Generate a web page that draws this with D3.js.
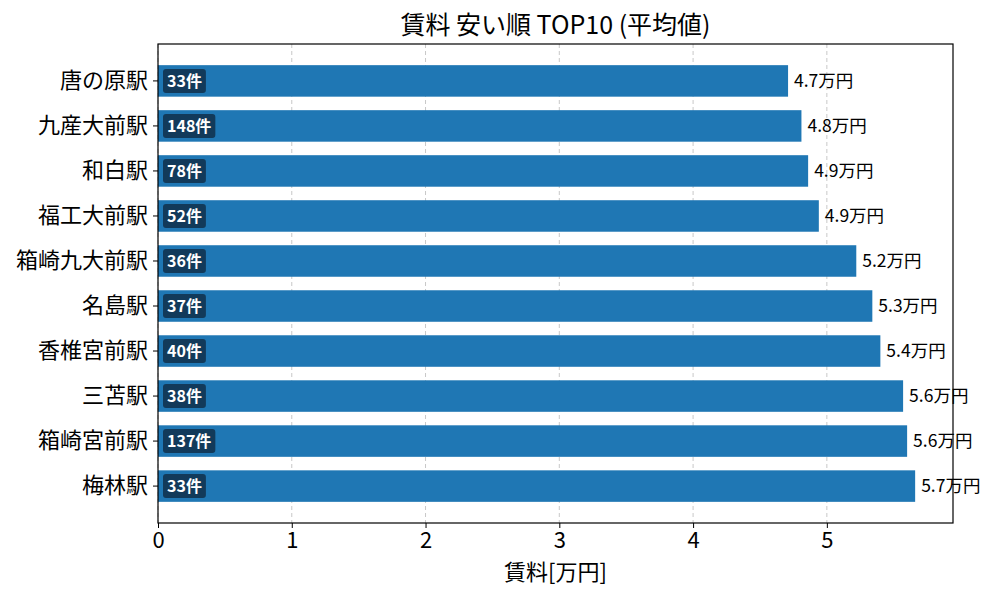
<!DOCTYPE html>
<html>
<head>
<meta charset="utf-8">
<script src="https://cdn.jsdelivr.net/npm/d3@7"></script>
<style>
  body { margin: 0; background: #fff; }
  text { font-family: "Noto Sans CJK JP", "Noto Sans", sans-serif; }
</style>
</head>
<body>
<svg id="chart" width="1000" height="600"></svg>
<script>
// station names, cheapest first (top to bottom)
const stations = ["唐の原駅", "九産大前駅", "和白駅", "福工大前駅", "箱崎九大前駅",
                  "名島駅", "香椎宮前駅", "三苫駅", "箱崎宮前駅", "梅林駅"];
// mean rent in 万円
const rents = [4.71, 4.81, 4.86, 4.94, 5.22, 5.34, 5.40, 5.57, 5.60, 5.66];
// number of listings
const counts = [33, 148, 78, 52, 36, 37, 40, 38, 137, 33];
const xTicks = [0, 1, 2, 3, 4, 5];

const rows = stations.map((s, i) => ({ name: s, rent: rents[i], count: counts[i] }));

const W = 1000, H = 600;
const m = { top: 44, right: 47, bottom: 77, left: 158 };
const iw = W - m.left - m.right;
const ih = H - m.top - m.bottom;

const svg = d3.select("#chart");
const g = svg.append("g").attr("transform", `translate(${m.left},${m.top})`);

// x goes a bit past the longest bar
const x = d3.scaleLinear().domain([0, d3.max(rents) * 1.05]).range([0, iw]);
const y = d3.scaleBand().domain(stations).range([0, ih]).paddingInner(0.3).paddingOuter(0.47);

// dashed vertical grid
g.selectAll(".grid")
  .data(xTicks)
  .enter().append("line")
  .attr("x1", d => x(d)).attr("x2", d => x(d))
  .attr("y1", 0).attr("y2", ih)
  .attr("stroke", "#c8c8c8")
  .attr("stroke-width", 1)
  .attr("stroke-dasharray", "4,3");

// bars
g.selectAll(".bar")
  .data(rows)
  .enter().append("rect")
  .attr("x", 0)
  .attr("y", d => y(d.name))
  .attr("width", d => x(d.rent))
  .attr("height", y.bandwidth())
  .attr("fill", "#1f77b4");

// rent value at bar end
g.selectAll(".val")
  .data(rows)
  .enter().append("text")
  .attr("x", d => x(d.rent) + 6)
  .attr("y", d => y(d.name) + y.bandwidth() / 2)
  .attr("dy", "0.35em")
  .attr("font-size", 17.5)
  .attr("fill", "#000")
  .text(d => d.rent.toFixed(1) + "万円");

// count badges inside bar
const badge = g.selectAll(".badge")
  .data(rows)
  .enter().append("g")
  .attr("transform", d => `translate(5,${y(d.name) + y.bandwidth() / 2})`);

badge.append("text")
  .attr("x", 4)
  .attr("dy", "0.35em")
  .attr("font-size", 16)
  .attr("font-weight", "bold")
  .attr("fill", "#fff")
  .text(d => d.count + "件")
  .each(function () {
    const bb = this.getBBox();
    d3.select(this.parentNode).insert("rect", "text")
      .attr("x", 0)
      .attr("y", -12)
      .attr("width", bb.width + 8)
      .attr("height", 24)
      .attr("rx", 3)
      .attr("fill", "#123a5a");
  });

// frame
g.append("rect")
  .attr("width", iw).attr("height", ih)
  .attr("fill", "none").attr("stroke", "#000").attr("stroke-width", 1.2);

// axes
const xAxis = g.append("g")
  .attr("transform", `translate(0,${ih})`)
  .call(d3.axisBottom(x).tickValues(xTicks).tickFormat(d3.format("d")).tickSize(5).tickPadding(4));
xAxis.select(".domain").remove();
xAxis.selectAll("text").attr("font-size", 22).attr("fill", "#000")
  .style("font-family", "'Noto Sans CJK JP', sans-serif");

const yAxis = g.append("g")
  .call(d3.axisLeft(y).tickSize(5).tickPadding(5));
yAxis.select(".domain").remove();
yAxis.selectAll("text").attr("font-size", 22).attr("fill", "#000")
  .style("font-family", "'Noto Sans CJK JP', sans-serif");

// title + axis label
svg.append("text")
  .attr("x", m.left + iw / 2).attr("y", 34)
  .attr("text-anchor", "middle")
  .attr("font-size", 25)
  .attr("fill", "#000")
  .text("賃料 安い順 TOP10 (平均値)");

svg.append("text")
  .attr("x", m.left + iw / 2).attr("y", 580)
  .attr("text-anchor", "middle")
  .attr("font-size", 22)
  .attr("fill", "#000")
  .text("賃料[万円]");
</script>
</body>
</html>
